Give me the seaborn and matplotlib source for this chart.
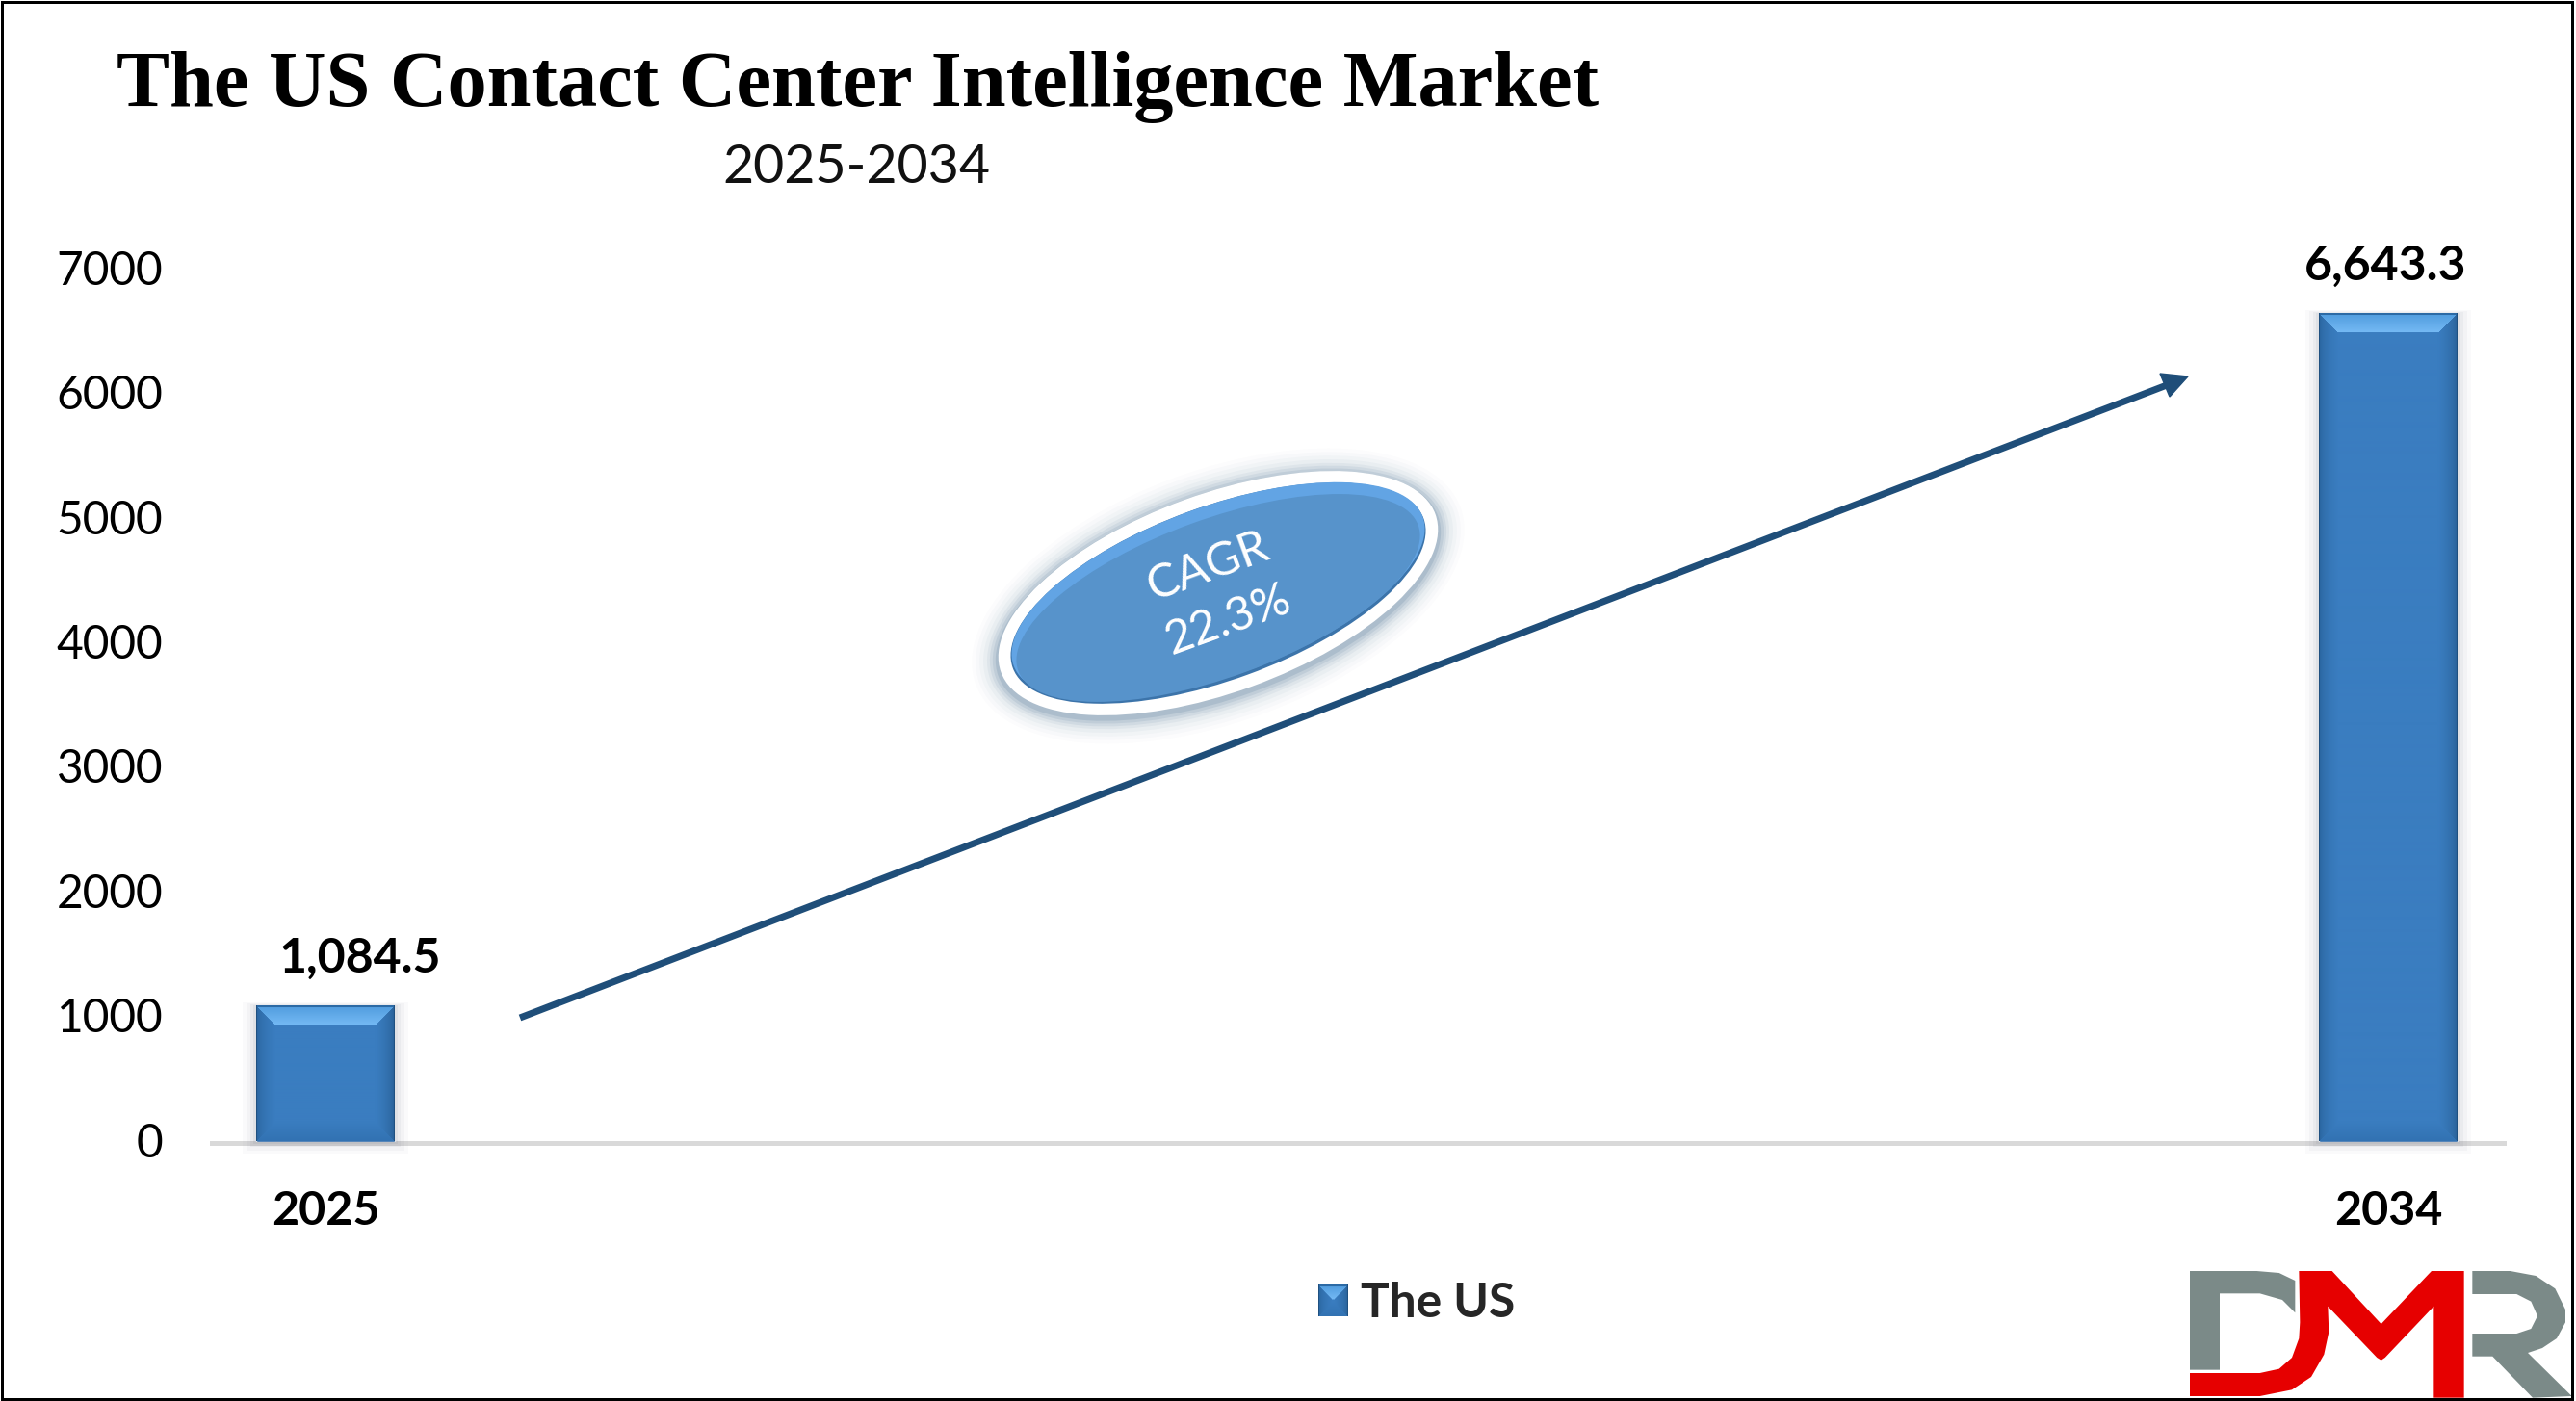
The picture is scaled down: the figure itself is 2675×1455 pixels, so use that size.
import numpy as np
import pandas as pd
import seaborn as sns
import matplotlib
matplotlib.use("Agg")
import matplotlib.pyplot as plt
from matplotlib.colors import to_rgb
from matplotlib.patches import Ellipse, Patch, Polygon, Rectangle
from matplotlib.transforms import ScaledTranslation

# ---- data ----
years = ["2025", "2034"]
values = [1084.5, 6643.3]
value_labels = ["1,084.5", "6,643.3"]
y_ticks = [0, 1000, 2000, 3000, 4000, 5000, 6000, 7000]
series_name = "The US"
title_text = "The US Contact Center Intelligence Market"
subtitle_text = "2025-2034"
cagr_text = "CAGR\n22.3%"

W, H = 2675, 1455
DPI = 100
sns.set_theme(style="white")
plt.rcParams["font.family"] = ["Lato", "DejaVu Sans"]

fig = plt.figure(figsize=(W / DPI, H / DPI), dpi=DPI, facecolor="white")
PT = 72 / DPI  # points per pixel


def ax_rect(l, t, r, b):
    return [l / W, 1 - b / H, (r - l) / W, (b - t) / H]


# ---- main axes ----
ax = fig.add_axes(ax_rect(220, 280, 2600, 1185.5))
df = pd.DataFrame({"year": years, "value": values})
sns.barplot(data=df, x="year", y="value", color="#3A7DC0", width=0.0672,
            saturation=1, ax=ax, zorder=3)
ax.set_xlim(-0.0551, 1.0560)
ax.set_ylim(0, 7000)
ax.set_yticks(y_ticks)
ax.set_xlabel("")
ax.set_ylabel("")
sns.despine(ax=ax, left=True)
ax.spines["bottom"].set_color("#D9D9D9")
ax.spines["bottom"].set_linewidth(5 * PT)
ax.spines["bottom"].set_position(("outward", 1 * PT))
ax.tick_params(axis="y", length=0, pad=51 * PT, labelsize=34.5, labelcolor="black")
ax.tick_params(axis="x", length=0, pad=50 * PT, labelsize=34.8, labelcolor="black")
for t in ax.get_xticklabels():
    t.set_fontweight("bold")
for t in ax.get_yticklabels():
    t.set_transform(t.get_transform() + ScaledTranslation(0, 2 / DPI, fig.dpi_scale_trans))
ax.patch.set_visible(False)

label_offsets = [(36, 50), (-3, 50)]
for i, (v, lab) in enumerate(zip(values, value_labels)):
    dx, dy = label_offsets[i]
    ax.annotate(lab, xy=(i, v), xytext=(dx * PT, dy * PT), textcoords="offset points",
                ha="center", va="center", fontsize=36, fontweight="bold", color="black",
                zorder=6)

leg = fig.legend(handles=[Patch(facecolor="#3A7DC0", label=series_name)],
                 loc="center", bbox_to_anchor=(1471 / W, 1 - 1354 / H), frameon=False,
                 prop={"size": 35.7, "weight": "bold"}, handlelength=0.625, handleheight=0.625,
                 handletextpad=0.27, borderpad=0, borderaxespad=0)
leg.set_zorder(1)

# ---- titles ----
fig.text(891 / W, 1 - 91 / H, title_text, ha="center", va="center", family="Liberation Serif",
         fontweight="bold", fontsize=59.3, color="black")
fig.text(889 / W, 1 - 175 / H, subtitle_text, ha="center", va="center", fontsize=40, color="#111111")

# ---- overlay in pixel coordinates (decoration) ----
ov = fig.add_axes([0, 0, 1, 1], zorder=5)
ov.axis("off")
ov.patch.set_visible(False)


def bevel_image(w, h, bevel):
    """RGB picture of a bevelled bar."""
    w, h = int(round(w)), int(round(h))
    xx, yy = np.meshgrid(np.arange(w) + 0.5, np.arange(h) + 0.5)
    dl, dr, dt, db = xx, w - xx, yy, h - yy
    base = np.array(to_rgb("#3A7DC0"))
    img = np.ones((h, w, 3)) * base
    m = np.minimum(np.minimum(dl, dr), np.minimum(dt, db))
    frac = np.clip(m / bevel, 0, 1)[..., None]
    side = np.array(to_rgb("#245C93"))
    right = np.array(to_rgb("#225688"))
    top_a, top_b = np.array(to_rgb("#4F9BDD")), np.array(to_rgb("#74B9F4"))
    bot = np.array(to_rgb("#3272B2"))
    left_m = (dl == m)[..., None]
    right_m = (dr == m)[..., None]
    bot_m = (db == m)[..., None]
    top_m = (dt == m)[..., None]
    img = np.where(bot_m & (frac < 1), bot * (1 - frac) + base * frac, img)
    img = np.where(left_m & (frac < 1), side * (1 - frac ** 0.4) + base * frac ** 0.4, img)
    img = np.where(right_m & (frac < 1), right * (1 - frac ** 0.4) + base * frac ** 0.4, img)
    img = np.where(top_m & (frac < 1), top_a * (1 - frac) + top_b * frac, img)
    img[:2, :] = to_rgb("#2C6AA5")
    img[:, :1] = to_rgb("#1F5080")
    img[:, -1:] = to_rgb("#1F5080")
    return img


fig.canvas.draw()
for bar in ax.patches:
    e = bar.get_window_extent()
    x0, x1, y0, y1 = e.x0, e.x1, H - e.y1, H - e.y0
    for g, a in zip([14, 10, 6, 3], [0.02, 0.03, 0.04, 0.05]):
        ov.add_patch(Rectangle((x0 - g, y0 - g * 0.3), x1 - x0 + 2 * g, y1 - y0 + g * 1.2,
                               facecolor="#1F2F4F", edgecolor="none", alpha=a, zorder=1))
    ov.imshow(bevel_image(x1 - x0, y1 - y0, 20), extent=(x0, x1, y1, y0), aspect="auto",
              zorder=2, interpolation="bilinear")

h = leg.legend_handles[0].get_window_extent()
ov.imshow(bevel_image(h.x1 - h.x0, h.y1 - h.y0, 15), extent=(h.x0, h.x1, H - h.y0, H - h.y1),
          aspect="auto", zorder=2, interpolation="bilinear")

# arrow
ARROW = "#1F4E79"
tail, tip = np.array([540.0, 1057.0]), np.array([2272.0, 391.0])
ov.plot([tail[0], 2250], [tail[1], 400], color=ARROW, lw=7 * PT, solid_capstyle="butt", zorder=3)
ov.add_patch(Polygon([tip, (2243, 388), (2253, 412)], closed=True, facecolor=ARROW,
                     edgecolor=ARROW, lw=1, zorder=3))

# CAGR ellipse
cx, cy, a_, b_, ang = 1265, 616, 240, 103, -20
for grow, alpha in zip([28, 24, 20, 16, 12, 9, 6, 3], [0.012, 0.018, 0.025, 0.035, 0.05, 0.07, 0.09, 0.12]):
    ov.add_patch(Ellipse((cx, cy + 3), 2 * (a_ + grow), 2 * (b_ + grow), angle=ang,
                         facecolor="#1F4E79", edgecolor="none", alpha=alpha, zorder=3))
ov.add_patch(Ellipse((cx, cy), 2 * a_, 2 * b_, angle=ang, facecolor="white", edgecolor="none", zorder=4))
inner = Ellipse((cx, cy), 2 * (a_ - 13), 2 * (b_ - 13), angle=ang, facecolor="#3C74AA",
                edgecolor="none", zorder=5)
ov.add_patch(inner)
hi = Ellipse((cx, cy - 2), 2 * (a_ - 14), 2 * (b_ - 15), angle=ang, facecolor="#62A4E4",
             edgecolor="none", zorder=6)
ov.add_patch(hi)
main_fill = Ellipse((cx, cy + 5), 2 * (a_ - 19), 2 * (b_ - 21), angle=ang, facecolor="#5793CB",
                    edgecolor="none", zorder=7)
ov.add_patch(main_fill)
ov.text(1265, 616, cagr_text, rotation=20, rotation_mode="anchor", ha="center", va="center",
        multialignment="center", fontsize=35, color="white", linespacing=1.4, zorder=8)

# DMR logo drawing
LOGO_GRAY, LOGO_RED = "#7B8A88", "#E60000"
d_gray = [(222, 210), (430, 210), (500, 216), (550, 240), (550, 340), (510, 300), (440, 280),
          (315, 280), (315, 518), (222, 518)]
d_red = [(222, 528), (440, 528), (500, 515), (540, 480), (562, 420), (565, 370), (562, 210),
         (665, 210), (818, 375), (975, 210), (1076, 210), (1076, 605), (982, 605), (982, 320),
         (830, 480), (818, 488), (805, 480), (652, 320), (655, 400), (640, 470), (600, 540),
         (540, 580), (440, 600), (222, 600)]
r_gray = [(1102, 210), (1220, 210), (1300, 225), (1360, 265), (1392, 330), (1392, 370), (1365, 420),
          (1320, 450), (1275, 465), (1412, 600), (1290, 605), (1165, 476), (1102, 476), (1102, 405),
          (1240, 405), (1285, 390), (1305, 350), (1285, 305), (1240, 282), (1102, 282)]
for pts, col in [(d_gray, LOGO_GRAY), (d_red, LOGO_RED), (r_gray, LOGO_GRAY)]:
    ov.add_patch(Polygon([(2200 + x / 3, 1250 + y / 3) for x, y in pts], closed=True,
                         facecolor=col, edgecolor="none", zorder=4))

# outer frame
ov.add_patch(Rectangle((1.5, 1.5), 2669, 1451, facecolor="none", edgecolor="black",
                       lw=3 * PT, zorder=9))
ov.set_xlim(0, W)
ov.set_ylim(H, 0)

fig.savefig("out.png", dpi=DPI, facecolor="white")
